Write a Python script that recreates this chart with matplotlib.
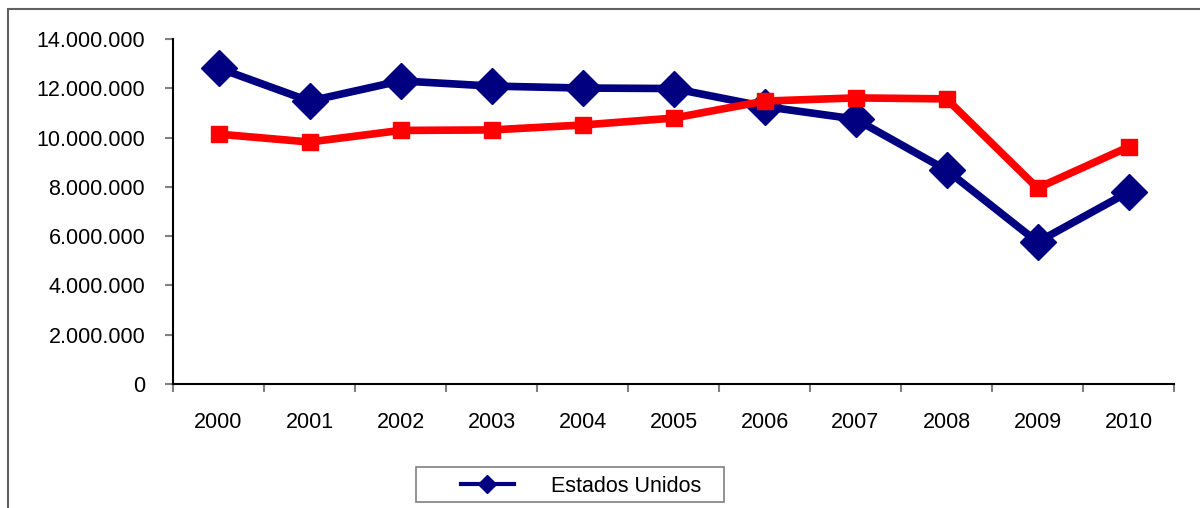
import matplotlib
matplotlib.use("Agg")
import matplotlib.pyplot as plt
from matplotlib.patches import Rectangle
from matplotlib.ticker import FuncFormatter, FixedLocator

years = ["2000", "2001", "2002", "2003", "2004", "2005", "2006", "2007", "2008", "2009", "2010"]
estados_unidos = [12820000, 11480000, 12300000, 12090000, 12010000, 11990000,
                  11260000, 10750000, 8680000, 5760000, 7790000]
otra_serie = [10140000, 9820000, 10290000, 10310000, 10510000, 10790000,
              11480000, 11610000, 11570000, 7950000, 9620000]
yticks = [0, 2000000, 4000000, 6000000, 8000000, 10000000, 12000000, 14000000]

plt.rcParams['font.family'] = ['Liberation Sans', 'DejaVu Sans']
FS = 15.5

fig = plt.figure(figsize=(12, 5.08), dpi=100)
ax = fig.add_axes([173/1200, 1 - 384/508, (1174 - 173)/1200, (384 - 39)/508])

x = list(range(len(years)))
ax.plot(x, estados_unidos, color="#000080", lw=5.5, marker="D", markersize=18,
        label="Estados Unidos", zorder=3)
ax.plot(x, otra_serie, color="#FF0000", lw=5.5, marker="s", markersize=11,
        label="_nolegend_", zorder=4)

ax.set_xlim(-0.5, len(years) - 0.5)
ax.set_ylim(0, 14000000)
ax.set_yticks(yticks)
ax.yaxis.set_major_formatter(FuncFormatter(lambda v, p: f"{int(v):,}".replace(",", ".")))

ax.set_xticks(x)
ax.set_xticklabels(years)
ax.xaxis.set_minor_locator(FixedLocator([i - 0.5 for i in range(len(years) + 1)]))
ax.tick_params(axis="x", which="major", length=0, pad=20, labelsize=FS)
ax.tick_params(axis="x", which="minor", length=6, color="#808080", width=1.5, direction="out")
ax.tick_params(axis="y", which="major", length=6, color="#808080", width=1.5, pad=14, labelsize=FS)

for s in ["top", "right"]:
    ax.spines[s].set_visible(False)
for s in ["left", "bottom"]:
    ax.spines[s].set_color("black")
    ax.spines[s].set_linewidth(1.5)

# outer frame
fig.patches.append(Rectangle((8/1200, -0.2), 1.2, 1 - 9/508 + 0.2, transform=fig.transFigure,
                             fill=False, edgecolor="#606060", lw=1.5, clip_on=False))

# legend box
fig.patches.append(Rectangle((416/1200, 6/508), 308/1200, 35/508, transform=fig.transFigure,
                             fill=True, facecolor="white", edgecolor="#808080", lw=1.2))
leg = fig.legend(loc="center left", bbox_to_anchor=(461/1200, 1 - 486/508),
                 frameon=False, fontsize=FS,
                 handlelength=2.45, handletextpad=1.75, borderpad=0, borderaxespad=0,
                 markerscale=0.5)
for line in leg.get_lines():
    line.set_linewidth(3)

fig.savefig("out.png", dpi=100)
